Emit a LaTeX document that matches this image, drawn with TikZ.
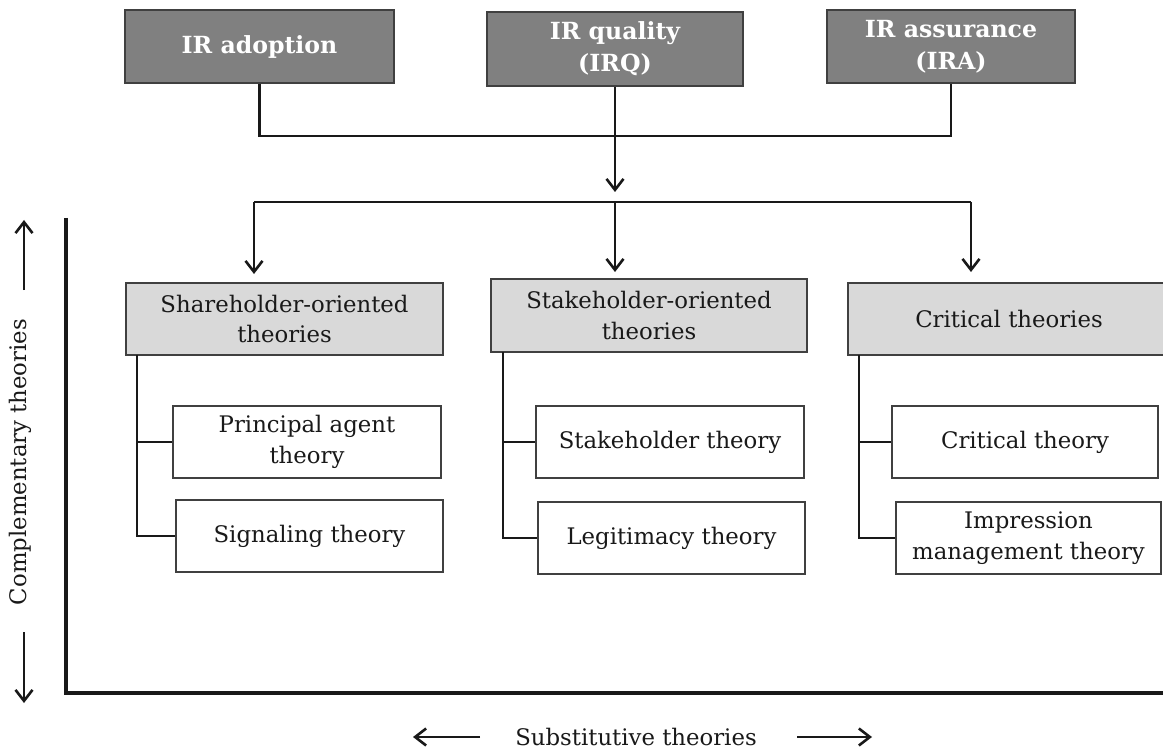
\documentclass[tikz,border=0pt]{standalone}
\usepackage{fontspec}
\setmainfont{DejaVu Serif}
\usetikzlibrary{arrows.meta}
\begin{document}
\begin{tikzpicture}[x=0.5pt,y=-0.5pt,
  box/.style={draw=black!75, line width=1pt, align=center, inner sep=0pt},
  darkbox/.style={box, fill=black!50, text=white, font=\fontsize{11.8}{16}\selectfont\bfseries},
  groupbox/.style={box, fill=black!15, text=black!90, font=\fontsize{11.4}{15.5}\selectfont},
  theorybox/.style={box, fill=white, text=black!90, font=\fontsize{11.4}{15.5}\selectfont},
  label/.style={text=black!90, font=\fontsize{11.4}{15.5}\selectfont},
  link/.style={line width=1.4pt, draw=black!90},
  arrowlink/.style={link, -{Straight Barb[length=5.5pt,width=8.5pt,line width=1.3pt]}},
]
\useasboundingbox (0,0) rectangle (1163,749);
\clip (0,0) rectangle (1163,749);

% top row: reporting practices
\node[darkbox, minimum width=134.5pt, minimum height=36.5pt] (A) at (259.5,46.5) {IR adoption};
\node[darkbox, minimum width=128pt, minimum height=37pt] (Q) at (615,49) {IR quality\\(IRQ)};
\node[darkbox, minimum width=124pt, minimum height=36.5pt] (R) at (951,46.5) {IR assurance\\(IRA)};

% theory groups
\node[groupbox, minimum width=158.5pt, minimum height=36pt] (S1) at (284.5,319) {Shareholder-oriented\\theories};
\node[groupbox, minimum width=158pt, minimum height=36.5pt] (S2) at (649,315.5) {Stakeholder-oriented\\theories};
\node[groupbox, minimum width=161pt, minimum height=36pt] (S3) at (1009,319) {Critical theories};

% single theories
\node[theorybox, minimum width=134pt, minimum height=36pt] (P1) at (307,442) {Principal agent\\theory};
\node[theorybox, minimum width=133.5pt, minimum height=36pt] (P2) at (309.5,536) {Signaling theory};
\node[theorybox, minimum width=134pt, minimum height=36pt] (T1) at (670,442) {Stakeholder theory};
\node[theorybox, minimum width=133.5pt, minimum height=36pt] (T2) at (671.5,538) {Legitimacy theory};
\node[theorybox, minimum width=133pt, minimum height=36pt] (C1) at (1025,442) {Critical theory};
\node[theorybox, minimum width=132.5pt, minimum height=36pt] (C2) at (1028.5,538) {Impression\\management theory};

% merging the three practices
\coordinate (j) at (615,136);
\coordinate (hub) at (615,202);
\coordinate (hl) at (254,202);
\coordinate (hr) at (971,202);
\draw[link] (A.south) |- (j) -| (R.south);
\draw[arrowlink, shorten >=5pt] (Q.south) -- (hub);
\draw[link] (hl) -- (hr);
\draw[arrowlink, shorten >=4pt] (hl) -- (hl |- S1.north);
\draw[arrowlink, shorten >=3pt] (hub) -- (hub |- S2.north);
\draw[arrowlink, shorten >=5pt] (hr) -- (hr |- S3.north);

% branches to the single theories
\coordinate (b1) at (137,355);
\coordinate (b2) at (503,352);
\coordinate (b3) at (859,355);
\draw[link] (b1) |- (P1.west);
\draw[link] (b1) |- (P2.west);
\draw[link] (b2) |- (T1.west);
\draw[link] (b2) |- (T2.west);
\draw[link] (b3) |- (C1.west);
\draw[link] (b3) |- (C2.west);

% axes
\coordinate (ytop) at (66,218);
\coordinate (origin) at (66,693);
\coordinate (xend) at (1170,693);
\draw[line width=1.6pt, draw=black!90] (ytop) -- (origin) -- (xend);

% axis captions
\node[label, rotate=90] (ylab) at (20,462) {Complementary theories};
\coordinate (u0) at (24,290);
\coordinate (u1) at (24,220);
\coordinate (d0) at (24,632);
\coordinate (d1) at (24,703);
\draw[arrowlink] (u0) -- (u1);
\draw[arrowlink] (d0) -- (d1);

\node[label] (xlab) at (636,737) {Substitutive theories};
\coordinate (l0) at (480,737);
\coordinate (l1) at (413,737);
\coordinate (r0) at (797,737);
\coordinate (r1) at (872,737);
\draw[arrowlink] (l0) -- (l1);
\draw[arrowlink] (r0) -- (r1);
\end{tikzpicture}
\end{document}
